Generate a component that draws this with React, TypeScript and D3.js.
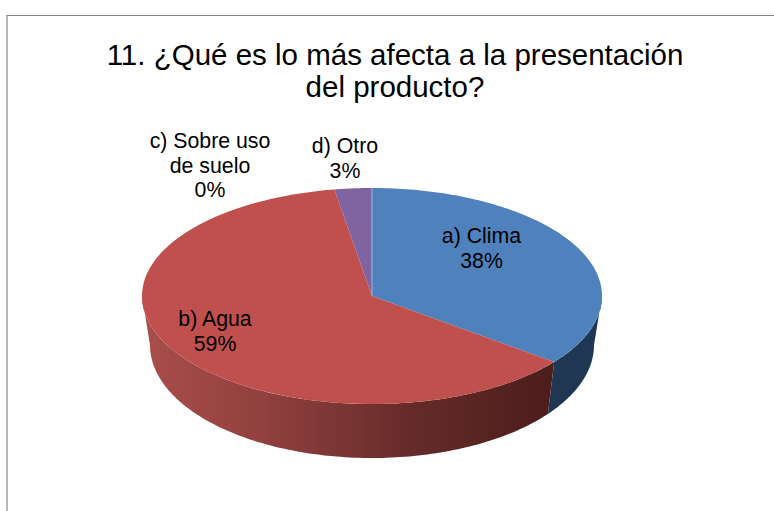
import React from "react";
import * as d3 from "d3";

const titleLines = ["11. ¿Qué es lo más afecta a la presentación", "del producto?"];
const categories = ["a) Clima", "b) Agua", "c) Sobre uso de suelo", "d) Otro"];
const values = [38.2, 58.5, 0, 3.3];
const topColors = ["#4f81bd", "#c0504d", "#9bbb59", "#8064a2"];
const sideColors = ["#1f3753", "url(#redSide)", "#6b8139", "#574370"];
const labelLines = [["a) Clima"], ["b) Agua"], ["c) Sobre uso", "de suelo"], ["d) Otro"]];
const labelAnchors = [[481.5, 243], [215, 326], [210, 148], [345, 153]];
const perspective = 0.79;

const W = 774, H = 511;
const top = { cx: 372, cy: 296, rx: 230, ry: 108 };
const bottom = { cx: 372, cy: 345, rx: 222, ry: 113 };

const warp = (a: number) => {
  const n = ((a + Math.PI) % (2 * Math.PI) + 2 * Math.PI) % (2 * Math.PI) - Math.PI;
  return 2 * Math.atan(perspective * Math.tan(n / 2));
};
const pt = (e: typeof top, param: number): [number, number] => [e.cx + e.rx * Math.sin(param), e.cy - e.ry * Math.cos(param)];
const unwrap = (a: number) => { const w = warp(a); return w < 0 ? w + 2 * Math.PI : w; };

export default function App() {
  const arcs = d3.pie<number>().sort(null).startAngle(0).endAngle(2 * Math.PI)(values);
  const total = d3.sum(values);
  const pct = d3.format(".0%");
  const line = d3.line();
  const params = arcs.map((d) => {
    const s = d.startAngle === 0 ? 0 : unwrap(d.startAngle);
    const e = d.endAngle >= 2 * Math.PI - 1e-6 ? 2 * Math.PI : unwrap(d.endAngle);
    return [s, e];
  });
  const range = (s: number, e: number) => d3.range(0, 121).map((i) => s + ((e - s) * i) / 120);
  return (
    <svg width={W} height={H} style={{ position: "absolute", left: 0, top: 0, background: "#fff" }} fontFamily="'Liberation Sans', Arial, sans-serif">
      <defs>
        <linearGradient id="redSide" gradientUnits="userSpaceOnUse" x1="142" x2="556" y1="0" y2="0">
          <stop offset="0" stopColor="#a94e4b" />
          <stop offset="0.3" stopColor="#90403e" />
          <stop offset="0.65" stopColor="#652b29" />
          <stop offset="1" stopColor="#4b1d1b" />
        </linearGradient>
      </defs>
      <path d="M7 511V15.5H774" fill="none" stroke="#868686" strokeWidth={1.2} />
      {arcs.map((d, i) => {
        const s = Math.max(params[i][0], Math.PI / 2);
        const e = Math.min(params[i][1], (3 * Math.PI) / 2);
        if (e <= s) return null;
        const ps = range(s, e);
        const pts = [...ps.map((p) => pt(top, p)), ...ps.slice().reverse().map((p) => pt(bottom, p))];
        return <path key={i} d={line(pts as [number, number][]) + "Z"} fill={sideColors[i]} />;
      })}
      {arcs.map((d, i) => {
        if (params[i][1] - params[i][0] < 1e-6) return null;
        const pts = [[top.cx, top.cy], ...range(params[i][0], params[i][1]).map((p) => pt(top, p))];
        return <path key={i} d={line(pts as [number, number][]) + "Z"} fill={topColors[i]} />;
      })}
      <line x1={top.cx} y1={top.cy} x2={top.cx} y2={top.cy - top.ry} stroke="#9db4d6" strokeWidth={1} />
      {titleLines.map((t, i) => (
        <text key={t} x={395} y={65 + i * 32} textAnchor="middle" fontSize={29.5} fill="#000">{t}</text>
      ))}
      {labelLines.map((ls, i) => (
        <text key={categories[i]} textAnchor="middle" fontSize={21.3} fill="#000">
          {[...ls, pct(values[i] / total)].map((l, j) => (
            <tspan key={j} x={labelAnchors[i][0]} y={labelAnchors[i][1] + j * 24.5}>{l}</tspan>
          ))}
        </text>
      ))}
    </svg>
  );
}
